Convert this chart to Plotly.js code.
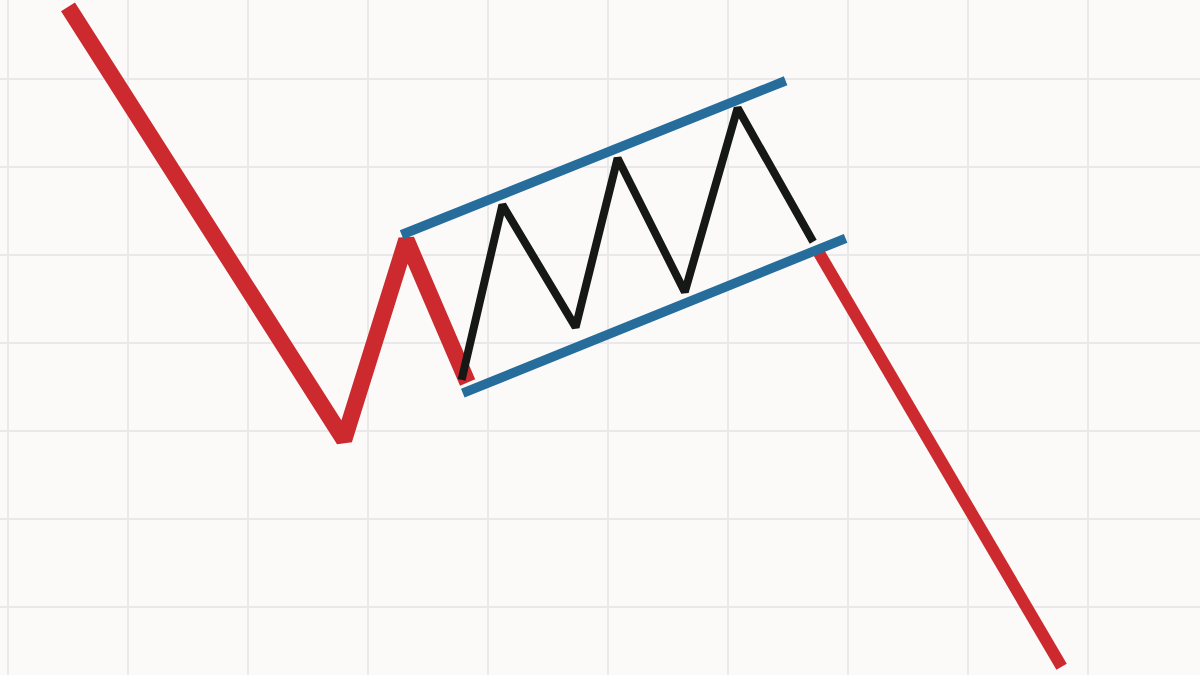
<!DOCTYPE html>
<html>
<head>
<meta charset="utf-8">
<script src="https://cdn.plot.ly/plotly-3.0.1.min.js"></script>
<style>
  html, body { margin: 0; padding: 0; background: #fbfaf9; }
  #chart { width: 1200px; height: 675px; }
</style>
</head>
<body>
<div id="chart"></div>
<script>
// bear flag sketch: time in grid columns, price in grid rows
var poleX = [0.5, 2.8, 3.32, 3.83];
var poleY = [6.82, 1.9, 4.17, 2.55];

var flagX = [3.78, 4.12, 4.73, 5.08, 5.64, 6.08, 6.71];
var flagY = [2.58, 4.57, 3.18, 5.1, 3.58, 5.67, 4.15];

var upperX = [3.28, 6.48];
var upperY = [4.23, 5.98];
var lowerX = [3.79, 6.98];
var lowerY = [2.43, 4.19];

var breakX = [6.73, 8.78];
var breakY = [4.09, -0.68];

var red = "#cc2a2e";
var blue = "#266d9c";
var black = "#161816";

var traces = [
    { x: poleX, y: poleY, mode: "lines", line: { color: red, width: 16.5 } },
    { x: breakX, y: breakY, mode: "lines", line: { color: red, width: 12 } },
    { x: flagX, y: flagY, mode: "lines", line: { color: black, width: 8 } },
    { x: upperX, y: upperY, mode: "lines", line: { color: blue, width: 9.5 } },
    { x: lowerX, y: lowerY, mode: "lines", line: { color: blue, width: 9.5 } },
];

var axisBase = {
    showgrid: true,
    gridcolor: "#e9e9ec",
    gridwidth: 1.5,
    zeroline: false,
    showticklabels: false,
    ticks: "",
    showline: false,
    dtick: 1,
    tick0: 0,
};

var layout = {
    width: 1200,
    height: 675,
    margin: { l: 0, r: 0, t: 0, b: 0 },
    showlegend: false,
    paper_bgcolor: "#fbfaf9",
    plot_bgcolor: "#fbfaf9",
    xaxis: Object.assign({}, axisBase, { range: [-0.0667, 9.9333] }),
    yaxis: Object.assign({}, axisBase, { range: [-0.773, 6.898] }),
};

Plotly.newPlot("chart", traces, layout, { staticPlot: true });
</script>
</body>
</html>
